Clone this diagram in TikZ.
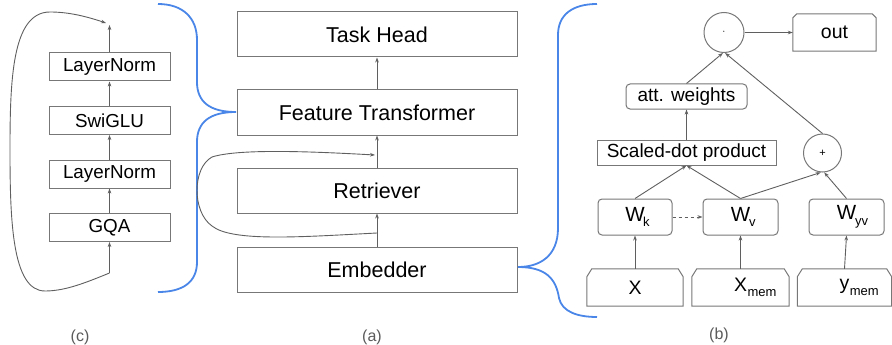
\documentclass[tikz,border=0pt]{standalone}
\usepackage{fontspec}
\setmainfont{Liberation Sans}
\usetikzlibrary{arrows.meta,calc}

\definecolor{linec}{HTML}{5F5F5F}
\definecolor{boxc}{HTML}{777777}
\definecolor{bracec}{HTML}{4A86E8}
\definecolor{capc}{HTML}{5A5A5A}
\newcommand{\setfs}[1]{\fontsize{#1}{#1}\selectfont}
\newcommand{\subtxt}[2]{\rlap{\kern#2\raisebox{-5.5pt}{\setfs{13}#1}}}

\tikzset{
  box/.style={draw=boxc, line width=1pt, inner sep=0pt, anchor=center},
  mainbox/.style={box, minimum width=280, minimum height=45, font=\setfs{21.5}},
  blockbox/.style={box, minimum width=121, minimum height=28, font=\setfs{18.8}},
  roundbox/.style={box, rounded corners=4, font=\setfs{19}},
  snipbox/.style={inner sep=0pt, anchor=center, font=\setfs{19.5}},
  opcirc/.style={draw=boxc, line width=1pt, circle, inner sep=0pt, font=\setfs{11}},
  conn/.style={draw=linec, line width=0.9pt, -{Stealth[length=5pt,width=3.6pt]}},
  brace/.style={draw=bracec, line width=1.8pt},
  caption/.style={text=capc, font=\setfs{16}},
}

\begin{document}
\begin{tikzpicture}[x=1pt,y=-1pt]
\useasboundingbox (0,0) rectangle (892,345);

% ---------- (c) transformer block ----------
\node[blockbox] (ln1) at (109.5,67)    {LayerNorm};
\node[blockbox] (swi) at (109.5,120.5) {SwiGLU};
\node[blockbox] (ln2) at (109.5,174)   {LayerNorm};
\node[blockbox] (gqa) at (109.5,227.5) {GQA};
\coordinate (cin)   at (109.5,273);
\coordinate (cout)  at (109.5,25);
\coordinate (cskip) at (106,23);
\draw[conn] (cin) -- (gqa.south);
\draw[conn] (gqa.north) -- (ln2.south);
\draw[conn] (ln2.north) -- (swi.south);
\draw[conn] (swi.north) -- (ln1.south);
\draw[conn] (ln1.north) -- (cout);
\draw[conn] (cin) .. controls (85,283) and (65,291) .. (45,291)
  .. controls (12,291) and (10,220) .. (10,150)
  .. controls (10,80) and (12,12) .. (50,12)
  .. controls (70,12) and (88,17) .. (cskip);
\node[caption] (capc) at (80,337) {(c)};

% brace joining (c) to the feature transformer
\draw[brace] (158,4) .. controls (183,4) and (197,18) .. (197,40)
  -- (197,82) .. controls (197,102) and (210,112) .. (236,112)
  .. controls (210,112) and (197,122) .. (197,142)
  -- (197,262) .. controls (197,282) and (183,292) .. (158,292);

% ---------- (a) overall pipeline ----------
\node[mainbox] (head) at (377,34.5)  {Task Head};
\node[mainbox] (ft)   at (377,112.5) {Feature Transformer};
\node[mainbox] (ret)  at (377,190.5) {Retriever};
\node[mainbox] (emb)  at (377,269.5) {Embedder};
\coordinate (lin)  at (377,233);
\coordinate (lout) at (375,155);
\draw[conn] (emb.north) -- (ret.south);
\draw[conn] (ret.north) -- (ft.south);
\draw[conn] (ft.north) -- (head.south);
\draw[conn] (lin) .. controls (300,237) and (232,242) .. (212,226)
  .. controls (192,212) and (192,168) .. (212,157)
  .. controls (240,148) and (320,152) .. (lout);
\node[caption] (capa) at (372,337) {(a)};

% brace joining the embedder to (b)
\draw[brace] (597,4) .. controls (572,4) and (558,15) .. (558,35)
  -- (558,228) .. controls (558,256) and (540,267) .. (518,267)
  .. controls (545,267) and (556,278) .. (559,298)
  .. controls (562,312) and (578,317) .. (597,317);

% ---------- (b) retrieval attention ----------
\node[opcirc, minimum size=40] (dot) at (724,32.5) {$\cdot$};
\node[snipbox, minimum width=83, minimum height=37] (out) at (834.5,32.5) {out};
\node[roundbox, minimum width=121, minimum height=25] (att) at (686.5,96.5) {att. weights};
\node[box, minimum width=179, minimum height=25, font=\setfs{19}] (sdp) at (686.5,152.5) {Scaled-dot product};
\node[opcirc, minimum size=38] (plus) at (822.5,153) {+};
\node[roundbox, minimum width=74, minimum height=36, font=\setfs{20.5}] (wk)  at (635,217)   {W\subtxt{k}{-1.5pt}};
\node[roundbox, minimum width=75, minimum height=36, font=\setfs{20.5}] (wv)  at (740.5,217) {W\subtxt{v}{-1pt}};
\node[roundbox, minimum width=75, minimum height=36, font=\setfs{20.5}] (wyv) at (846.5,217) {W\subtxt{yv}{-1pt}};
\node[snipbox, minimum width=96, minimum height=37] (x)  at (635,287.5)   {X};
\node[snipbox, minimum width=97, minimum height=37] (xm) at (740.5,287.5) {X\subtxt{mem}{0.5pt}};
\node[snipbox, minimum width=94, minimum height=37] (ym) at (844.5,287.5) {y\subtxt{mem}{0.5pt}};

% snipped-corner outlines of the input and output boxes
\foreach \n/\a/\b in {x/5/8, xm/5/8, ym/5/8, out/4/4}{
  \draw[draw=boxc, line width=1pt]
    (\n.south west) -- ($(\n.north west)+(0,\b)$) -- ($(\n.north west)+(\a,0)$)
    -- ($(\n.north east)+(-\a,0)$) -- ($(\n.north east)+(0,\b)$)
    -- (\n.south east) -- cycle;
}

\draw[conn] (x.north)  -- (wk.south);
\draw[conn] (xm.north) -- (wv.south);
\draw[conn] (ym.north) -- (wyv.south);
\draw[conn, dashed] (wk.east) -- (wv.west);
\draw[conn] (wk.north) -- (sdp.south);
\draw[conn] (wv.north) -- (sdp.south);
\draw[conn] (wv.north) -- (plus.-95);
\draw[conn] (wyv.north) -- (plus.-85);
\draw[conn] (sdp.north) -- (att.south);
\draw[conn] (att.north) -- (dot.-93);
\draw[conn] (plus.north) -- (dot.-87);
\draw[conn] (dot.east) -- (out.west);
\node[caption] (capb) at (719,335) {(b)};
\end{tikzpicture}
\end{document}
